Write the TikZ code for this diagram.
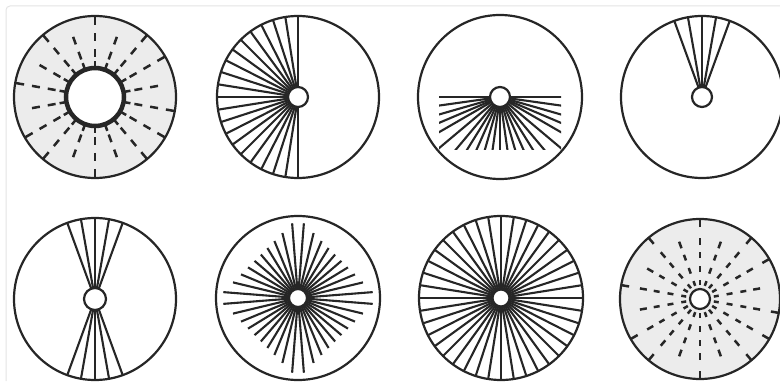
\documentclass[tikz,border=0pt]{standalone}
\definecolor{ink}{HTML}{262626}
\definecolor{panel}{HTML}{ECECEC}
\definecolor{framec}{HTML}{E4E4E4}
\begin{document}
\begin{tikzpicture}[x=1pt,y=1pt,
  rim/.style={line width=2.2pt, draw=ink},
  ray/.style={line width=2.1pt, draw=ink},
  dsh/.style={line width=2.5pt, draw=ink},
  hub/.style={line width=2.2pt, draw=ink, fill=white}]
\useasboundingbox (0,0) rectangle (780,381);
% faint frame
\draw[framec, line width=1pt] (6,0) -- (6,371) arc[start angle=180,end angle=90,radius=4] -- (780,375);

% 1: gray ring with dashed rays
\begin{scope}[shift={(95,284)}]
  \fill[panel] (0,0) circle (81);
  \foreach \a in {90,110,...,430} {
    \draw[dsh] (\a:40) -- (\a:48) (\a:56) -- (\a:64) (\a:29) -- (\a:36);
  }
  \foreach \a in {90,130,170,210,230,270,310,330,350,30,50}
    \draw[dsh] (\a:72) -- (\a:81);
  \draw[draw=ink, line width=4.5pt, fill=white] (0,0) circle (29);
  \draw[rim] (0,0) circle (81);
\end{scope}

% 2: left half fan
\begin{scope}[shift={(298,284)}]
  \foreach \a in {99,108,...,261} \draw[ray] (0,0) -- (\a:81);
  \draw[ray] (90:81) -- (270:81);
  \draw[hub] (0,0) circle (10);
  \draw[rim] (0,0) circle (81);
\end{scope}

% 3: lower fan clipped to a box
\begin{scope}[shift={(500,284)}]
  \begin{scope}
    \clip (-61,1.2) rectangle (61,-53);
    \foreach \t in {0,8,16,23,30,40,50,58,66,74,82,90,98,106,114,122,130,140,150,157,164,172,180}
      \draw[ray] (0,0) -- (-\t:90);
  \end{scope}
  \draw[hub] (0,0) circle (10);
  \draw[rim] (0,0) circle (82);
\end{scope}

% 4: narrow fan up
\begin{scope}[shift={(702,284)}]
  \foreach \a in {70,80,...,110} \draw[ray] (0,0) -- (\a:81);
  \draw[hub] (0,0) circle (10);
  \draw[rim] (0,0) circle (81);
\end{scope}

% 5: narrow fans up and down
\begin{scope}[shift={(95,82)}]
  \foreach \a in {70,80,...,110,250,260,...,290} \draw[ray] (0,0) -- (\a:81);
  \draw[hub] (0,0) circle (11);
  \draw[rim] (0,0) circle (81);
\end{scope}

% 6: star with diamond envelope
\begin{scope}[shift={(298,83)}]
  \foreach \a in {4.5,13.5,...,360} {
    \pgfmathsetmacro\L{80.6/(abs(cos(\a))+abs(sin(\a)))}
    \draw[ray] (0,0) -- (\a:\L);
  }
  \draw[hub] (0,0) circle (9);
  \draw[rim] (0,0) circle (82);
\end{scope}

% 7: full wheel
\begin{scope}[shift={(501,83)}]
  \foreach \a in {0,9,...,351} \draw[ray] (0,0) -- (\a:82);
  \draw[hub] (0,0) circle (8.5);
  \draw[rim] (0,0) circle (82);
\end{scope}

% 8: gray disc with dashed rays to small hub
\begin{scope}[shift={(700,82)}]
  \fill[panel] (0,0) circle (80);
  \foreach \a in {90,110,...,430} {
    \draw[dsh] (\a:54) -- (\a:61) (\a:41) -- (\a:47) (\a:27) -- (\a:33) (\a:14) -- (\a:19);
  }
  \foreach \a in {90,130,170,210,230,270,310,330,350,30,50}
    \draw[dsh] (\a:72) -- (\a:80);
  \draw[hub] (0,0) circle (10);
  \draw[rim] (0,0) circle (80);
\end{scope}
\end{tikzpicture}
\end{document}
